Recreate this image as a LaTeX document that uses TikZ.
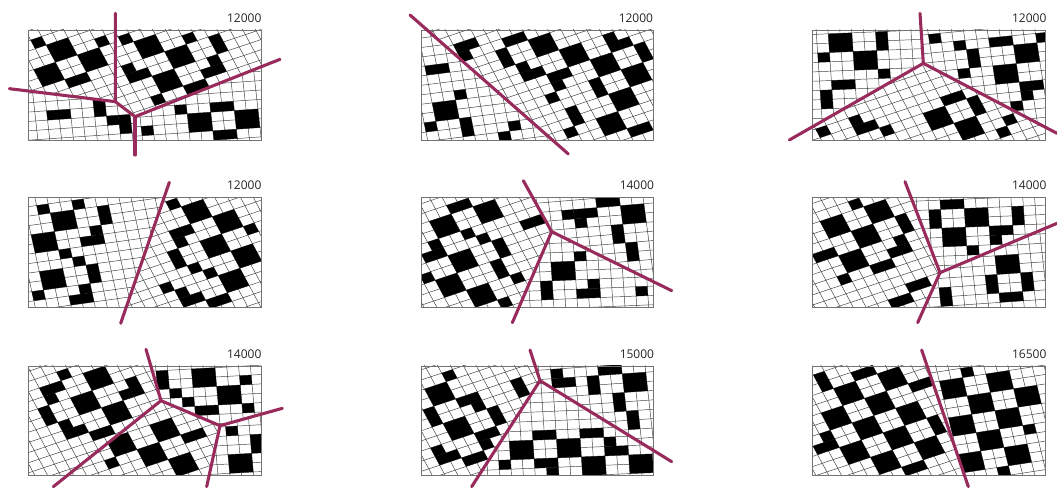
\documentclass[tikz,border=0pt]{standalone}
\usepackage{fontspec}
\setmainfont{Open Sans}
\definecolor{seamc}{HTML}{982B5C}
\tikzset{
 gridln/.style={draw=black!75,line width=0.35pt},
 frameln/.style={draw=black!55,line width=0.6pt},
 seam/.style={draw=seamc,line width=2.3pt,line cap=round,line join=round},
 lab/.style={anchor=east,inner sep=0pt,font=\fontsize{9}{10}\selectfont,text=black!85}
}
\newcommand\cel{35.5}
\newcommand\sq{0.79}
\newcommand\region[5]{%
 \begin{scope}
  \clip #4;
  \begin{scope}[shift={(#2,#3)},yscale=\sq,rotate=#1]
   \foreach \ii in {-30,...,30}{%
    \draw[gridln] ({\ii*\cel},-1100) -- ({\ii*\cel},1100);
    \draw[gridln] (-1100,{\ii*\cel}) -- (1100,{\ii*\cel});
   }
   \foreach \cx/\cy/\cw/\ch in {#5}{%
    \pgfmathsetmacro\uu{(\cx-#2)*cos(#1)-(\cy-#3)/\sq*sin(#1)}%
    \pgfmathsetmacro\vv{(\cx-#2)*sin(#1)+(\cy-#3)/\sq*cos(#1)}%
    \pgfmathsetmacro\ua{round(\uu/\cel-\cw/2)*\cel}%
    \pgfmathsetmacro\va{round(\vv/\cel-\ch/2)*\cel}%
    \fill[black] (\ua,\va) rectangle ++({\cw*\cel},{\ch*\cel});
   }
  \end{scope}
 \end{scope}}
\begin{document}
\begin{tikzpicture}[x=0.25pt,y=-0.25pt]
\useasboundingbox (0,0) rectangle (3171,1464);
\fill[white] (0,0) rectangle (3171,1464);
% ---------- P1
\begin{scope}
\coordinate (a1) at (346,40);\coordinate (b1) at (28,266);\coordinate (c1) at (346,305);
\coordinate (d1) at (405,350);\coordinate (e1) at (840,178);\coordinate (f1) at (405,465);
\begin{scope}\clip (85,90) rectangle (785,420);
\region{23}{185}{150}{(0,0)--(a1)--(c1)--(b1)--cycle}{115/135/1/1,185/150/2/2,300/113/1/1,283/172/2/2,155/225/2/2,245/237/2/1}
\region{23}{447}{140}{(a1)--(c1)--(d1)--(e1)--(900,0)--cycle}{378/120/1/1,447/140/2/2,565/115/1/1,535/170/2/2,650/130/1/2,640/205/2/1,650/185/1/1,415/225/2/1,392/205/1/1,505/245/2/2,590/262/2/1,475/298/1/1}
\region{5}{175}{330}{(b1)--(c1)--(d1)--(f1)--(0,500)--(0,0)--cycle}{175/347/2/1,297/335/1/2,330/350/1/1,380/385/1/2}
\region{5}{600}{367}{(f1)--(d1)--(e1)--(900,500)--cycle}{445/390/1/1,545/328/1/1,600/367/2/2,665/320/2/1,740/357/2/2,675/402/2/1}
\end{scope}
\draw[frameln] (85,90) rectangle (785,420);
\draw[seam] (a1)--(c1)--(d1)--(e1);\draw[seam] (b1)--(c1);\draw[seam] (d1)--(f1);
\node[lab] (t1) at (785,55) {12000};
\end{scope}
% ---------- P2
\begin{scope}[shift={(1200,0)}]
\coordinate (a2) at (30,45);\coordinate (b2) at (505,462);
\begin{scope}\clip (65,90) rectangle (760,420);
\region{9}{137}{332}{(a2)--(b2)--(0,500)--(0,0)--cycle}{103/210/2/1,177/283/1/1,137/332/2/2,97/382/1/1,200/378/1/2,315/400/1/1,343/368/1/1}
\region{23}{430}{135}{(a2)--(b2)--(900,500)--(900,0)--cycle}{205/130/2/1,195/155/1/1,345/113/2/1,430/135/2/2,315/167/1/2,520/160/2/2,395/210/2/1,370/195/1/1,615/190/2/2,705/220/2/2,480/235/2/1,470/250/1/1,595/255/1/2,665/290/2/2,457/287/1/1,525/340/1/2,630/360/2/2,515/388/1/1,720/378/2/1,630/118/1/2,670/125/1/1,725/150/1/2}
\end{scope}
\draw[frameln] (65,90) rectangle (760,420);
\draw[seam] (a2)--(b2);
\node[lab] (t2) at (760,55) {12000};
\end{scope}
% ---------- P3
\begin{scope}[shift={(2340,0)}]
\coordinate (a3) at (420,40);\coordinate (c3) at (430,190);\coordinate (b3) at (28,420);\coordinate (d3) at (831,400);
\begin{scope}\clip (97,90) rectangle (797,420);
\region{3}{182}{128}{(a3)--(c3)--(b3)--(0,0)--cycle}{182/128/2/2,305/122/1/2,137/175/1/1,258/180/2/2,315/217/1/1,197/252/2/1,150/298/1/2}
\region{7}{678}{222}{(a3)--(c3)--(d3)--(900,0)--cycle}{450/105/1/1,533/148/1/1,578/183/1/2,555/228/1/1,655/128/2/1,730/157/2/2,772/105/1/1,678/222/2/2,757/255/2/1,745/280/1/1,720/312/1/1}
\region{23}{475}{355}{(b3)--(c3)--(d3)--(900,500)--(0,500)--cycle}{518/295/2/1,590/315/1/2,475/355/2/2,575/385/2/2,135/397/1/1,232/365/1/1,255/382/2/1,325/390/1/1,685/360/1/1,665/397/1/1}
\end{scope}
\draw[frameln] (97,90) rectangle (797,420);
\draw[seam] (a3)--(c3)--(d3);\draw[seam] (c3)--(b3);
\node[lab] (t3) at (800,55) {12000};
\end{scope}
% ---------- P4
\begin{scope}[shift={(0,510)}]
\coordinate (a4) at (508,37);\coordinate (b4) at (362,460);
\begin{scope}\clip (85,83) rectangle (785,413);
\region{10}{192}{152}{(a4)--(b4)--(0,500)--(0,0)--cycle}{130/118/1/1,192/152/2/2,235/102/1/1,313/132/1/2,140/218/2/2,280/208/2/1,292/180/1/1,200/248/1/1,243/270/1/1,170/327/2/2,290/305/1/2,128/375/1/1,258/382/2/1,270/350/1/1}
\region{23}{590}{125}{(a4)--(b4)--(900,500)--(900,0)--cycle}{520/102/1/1,590/125/2/2,680/155/2/2,752/177/1/1,545/182/2/1,540/210/1/1,645/225/2/2,740/255/2/2,530/265/1/2,585/292/1/1,630/307/1/1,700/330/2/2,503/350/1/1,580/378/2/1,550/365/1/1,655/390/2/1}
\end{scope}
\draw[frameln] (85,83) rectangle (785,413);
\draw[seam] (a4)--(b4);
\node[lab] (t4) at (785,47) {12000};
\end{scope}
% ---------- P5
\begin{scope}[shift={(1200,510)}]
\coordinate (a5) at (370,32);\coordinate (c5) at (455,185);\coordinate (d5) at (815,362);\coordinate (b5) at (337,458);
\begin{scope}\clip (65,83) rectangle (760,413);
\region{23}{265}{125}{(a5)--(c5)--(b5)--(0,500)--(0,0)--cycle}{180/105/2/1,265/125/2/2,140/165/2/2,207/190/1/1,252/205/1/1,305/232/1/2,110/250/2/1,115/225/1/1,190/270/2/2,300/295/1/2,87/322/1/1,155/342/2/2,352/322/1/1,247/372/2/2,317/395/1/1,410/160/2/1}
\region{6}{700}{132}{(a5)--(c5)--(d5)--(900,0)--cycle}{502/123/1/1,620/102/2/1,700/132/2/2,560/143/2/1,545/165/1/1,660/195/1/2,712/243/1/2}
\region{3}{490}{303}{(b5)--(c5)--(d5)--(900,500)--cycle}{537/258/1/1,490/303/2/2,443/362/1/2,565/368/2/1,582/345/1/1,713/352/1/1}
\end{scope}
\draw[frameln] (65,83) rectangle (760,413);
\draw[seam] (a5)--(c5)--(d5);\draw[seam] (c5)--(b5);
\node[lab] (t5) at (763,47) {14000};
\end{scope}
% ---------- P6
\begin{scope}[shift={(2340,510)}]
\coordinate (a6) at (375,35);\coordinate (c6) at (480,308);\coordinate (d6) at (831,160);\coordinate (b6) at (413,458);
\begin{scope}\clip (97,83) rectangle (797,413);
\region{23}{297}{125}{(a6)--(c6)--(b6)--(0,500)--(0,0)--cycle}{230/102/1/1,297/125/2/2,172/168/2/2,375/160/1/2,260/195/2/2,358/235/2/1,362/210/1/1,140/255/2/1,225/270/2/2,310/290/2/1,198/325/1/1,415/342/2/1,365/390/2/1}
\region{3}{590}{142}{(a6)--(c6)--(d6)--(900,0)--cycle}{515/103/2/1,590/142/2/2,467/150/1/2,710/132/1/2,525/200/2/2,665/180/2/1,648/205/1/1,582/240/1/1,742/232/2/1}
\region{5}{683}{283}{(b6)--(c6)--(d6)--(900,500)--cycle}{683/283/2/2,510/370/1/2,647/347/1/2,748/330/1/2,708/380/2/1}
\end{scope}
\draw[frameln] (97,83) rectangle (797,413);
\draw[seam] (a6)--(c6)--(d6);\draw[seam] (c6)--(b6);
\node[lab] (t6) at (800,47) {14000};
\end{scope}
% ---------- P7
\begin{scope}[shift={(0,1020)}]
\coordinate (a7) at (438,28);\coordinate (c7) at (483,182);\coordinate (e7) at (660,257);\coordinate (f7) at (847,205);\coordinate (g7) at (620,440);\coordinate (b7) at (160,440);
\begin{scope}\clip (85,78) rectangle (785,405);
\region{23}{295}{115}{(a7)--(c7)--(b7)--(0,500)--(0,0)--cycle}{197/107/1/1,295/115/2/2,155/150/2/1,145/175/1/1,400/140/1/2,380/160/1/1,258/190/2/2,145/230/1/2,350/220/2/2,215/275/2/1,195/260/1/1,305/282/2/1}
\region{4}{612}{113}{(a7)--(c7)--(e7)--(f7)--(900,0)--cycle}{490/122/1/2,612/113/2/2,530/160/1/1,735/120/1/1,687/162/2/2,567/185/1/1,625/208/2/1,745/202/1/1}
\region{23}{495}{270}{(b7)--(c7)--(e7)--(g7)--cycle}{495/270/2/2,595/278/2/1,373/325/2/2,475/350/2/2,565/365/2/2,350/378/1/1}
\region{4}{722}{370}{(g7)--(e7)--(f7)--(900,500)--cycle}{712/272/1/1,760/310/1/2,722/370/2/2}
\end{scope}
\draw[frameln] (85,78) rectangle (785,405);
\draw[seam] (a7)--(c7)--(e7)--(f7);\draw[seam] (c7)--(b7);\draw[seam] (e7)--(g7);
\node[lab] (t7) at (785,43) {14000};
\end{scope}
% ---------- P8
\begin{scope}[shift={(1200,1020)}]
\coordinate (a8) at (390,30);\coordinate (c8) at (420,122);\coordinate (d8) at (815,365);\coordinate (b8) at (215,440);
\begin{scope}\clip (65,78) rectangle (760,405);
\region{23}{120}{162}{(a8)--(c8)--(b8)--(0,500)--(0,0)--cycle}{150/107/1/1,120/162/2/2,357/140/1/2,210/180/2/1,235/197/1/1,100/230/1/2,290/225/1/2,175/265/2/2,260/285/2/1,262/305/1/1,145/345/2/1,120/330/1/1,225/352/2/1}
\region{5}{705}{127}{(a8)--(c8)--(d8)--(900,0)--cycle}{465/100/1/1,490/120/2/1,625/98/2/1,705/127/2/2,585/148/1/2,665/190/1/2,715/238/1/2}
\region{3}{365}{330}{(b8)--(c8)--(d8)--(900,500)--cycle}{430/285/2/1,570/272/2/1,365/330/2/2,505/322/2/2,625/310/1/1,645/325/2/1,318/375/1/1,437/368/2/1,460/385/1/1,580/370/2/2,720/360/2/2}
\end{scope}
\draw[frameln] (65,78) rectangle (760,405);
\draw[seam] (a8)--(c8)--(d8);\draw[seam] (c8)--(b8);
\node[lab] (t8) at (763,43) {15000};
\end{scope}
% ---------- P9
\begin{scope}[shift={(2340,1020)}]
\coordinate (a9) at (425,30);\coordinate (b9) at (565,440);
\begin{scope}\clip (97,78) rectangle (797,405);
\region{23}{300}{190}{(a9)--(b9)--(0,500)--(0,0)--cycle}{130/128/1/2,250/100/2/1,335/115/2/2,205/162/2/2,415/135/2/1,300/190/2/2,390/222/2/2,170/240/2/2,262/265/2/2,470/255/1/2,355/295/2/2,130/318/2/1,145/295/1/1,225/335/2/2,440/325/2/2,320/365/2/2,400/383/2/1}
\region{11}{603}{190}{(a9)--(b9)--(900,500)--(900,0)--cycle}{520/145/2/2,562/97/1/1,657/122/2/2,740/165/2/2,603/190/2/2,550/255/2/2,685/232/2/2,748/265/1/1,635/297/2/2,715/340/2/2,578/362/2/2,677/388/1/1}
\end{scope}
\draw[frameln] (97,78) rectangle (797,405);
\draw[seam] (a9)--(b9);
\node[lab] (t9) at (800,43) {16500};
\end{scope}
\end{tikzpicture}
\end{document}
